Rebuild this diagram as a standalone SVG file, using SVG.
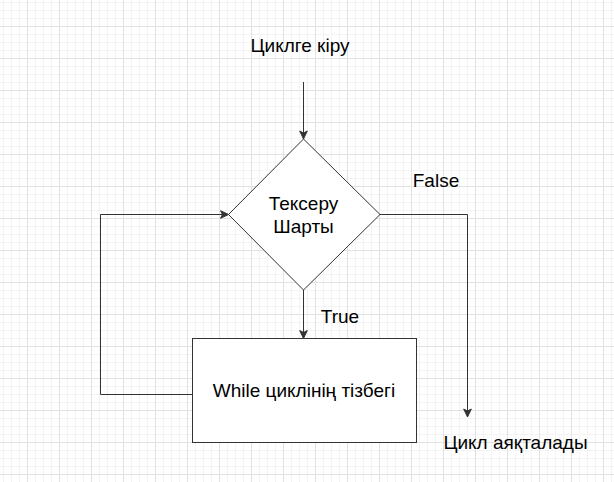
<svg xmlns="http://www.w3.org/2000/svg" width="614" height="482" viewBox="0 0 614 482">
  <style>
    .shape { fill: #ffffff; stroke: #333333; stroke-width: 1; }
    .edge { fill: none; stroke: #333333; stroke-width: 1; }
    .label { font-family: "Liberation Sans", Arial, sans-serif; font-size: 19px; fill: #000000; text-anchor: middle; }
  </style>
  <defs>
    <pattern id="minor" patternUnits="userSpaceOnUse" x="3" y="2" width="8" height="8">
      <path d="M0.5,0 V8 M0,0.5 H8" fill="none" stroke="#f4f4f4" stroke-width="1"/>
    </pattern>
    <pattern id="major" patternUnits="userSpaceOnUse" x="27" y="26" width="32" height="32">
      <path d="M0.5,0 V32 M0,0.5 H32" fill="none" stroke="#e2e2e2" stroke-width="1"/>
    </pattern>
    <marker id="arrow" markerUnits="userSpaceOnUse" markerWidth="10" markerHeight="10" viewBox="0 0 10 10" refX="9" refY="5" orient="auto">
      <path d="M1,1.2 L9,5 L1,8.8 L3,5 z" fill="#333333" stroke="#333333" stroke-width="1"/>
    </marker>
  </defs>

  <rect width="614" height="482" fill="#ffffff"/>
  <rect width="614" height="482" fill="url(#minor)"/>
  <rect width="614" height="482" fill="url(#major)"/>

  <g id="connectors">
    <path class="edge" d="M303.5,82 V139" marker-end="url(#arrow)"/>
    <path class="edge" d="M303.5,290 V338.5" marker-end="url(#arrow)"/>
    <path class="edge" d="M380,214.5 H467.5 V417" marker-end="url(#arrow)"/>
    <path class="edge" d="M196,394.5 H100.5 V214.5 H228.5" marker-end="url(#arrow)"/>
  </g>

  <g id="start">
    <text class="label" x="300" y="52">Циклге кіру</text>
  </g>

  <g id="condition">
    <polygon class="shape" points="303.5,139 380,214.5 303.5,290 228.5,214.5"/>
    <text class="label" x="303.5" y="210">Тексеру</text>
    <text class="label" x="303.5" y="232.5">Шарты</text>
  </g>

  <g id="label-false">
    <text class="label" x="436" y="187">False</text>
  </g>

  <g id="label-true">
    <text class="label" x="340" y="323">True</text>
  </g>

  <g id="body">
    <rect class="shape" x="192.5" y="338.5" width="224" height="104"/>
    <text class="label" x="304" y="397">While циклінің тізбегі</text>
  </g>

  <g id="end">
    <text class="label" x="515.5" y="449">Цикл аяқталады</text>
  </g>
</svg>
